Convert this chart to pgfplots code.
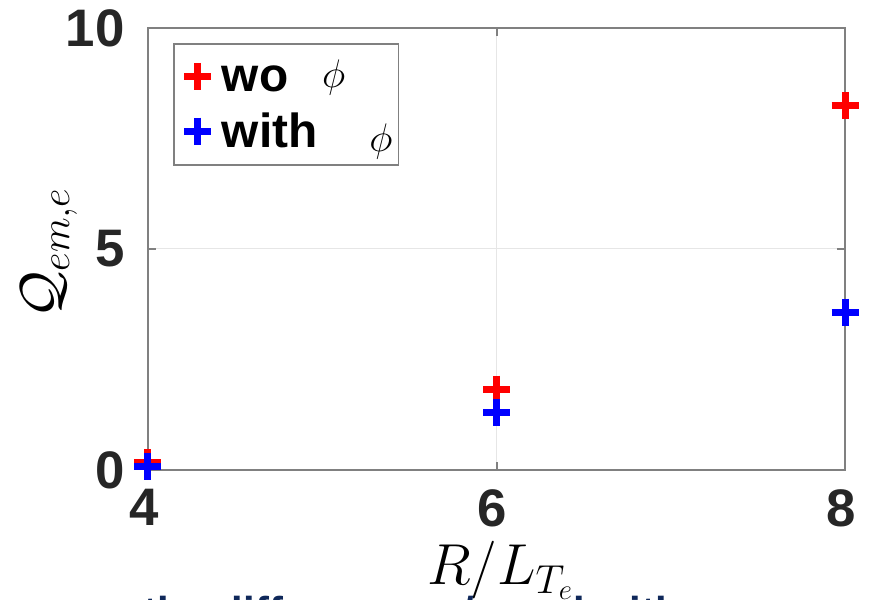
\RequirePackage{fix-cm}
\documentclass[border=0pt]{standalone}
\usepackage{fontspec}
\setmainfont{Liberation Sans}
\usepackage{pgfplots}
\pgfplotsset{compat=1.18}

\definecolor{axgray}{RGB}{128,128,128}
\definecolor{gridgray}{RGB}{230,230,230}
\definecolor{ticktext}{RGB}{38,38,38}
\definecolor{navy}{RGB}{15,40,90}

\newcommand{\phisym}{{\fontsize{40}{40}\selectfont$\phi$}}

\begin{document}
\begin{tikzpicture}
% page frame; anything outside it is cut off
\path[use as bounding box] (-148bp,-130bp) rectangle (728bp,470bp);
\begin{axis}[
  at={(0,0)}, anchor=south west,
  scale only axis,
  width=697bp, height=442bp,
  xmin=4, xmax=8, ymin=0, ymax=10,
  xtick={4,6,8}, ytick={0,5,10},
  grid=major,
  major grid style={draw=gridgray, line width=1bp},
  axis line style={draw=axgray, line width=2bp},
  tick style={draw=axgray, line width=2bp},
  major tick length=8bp,
  tick align=inside,
  /pgf/number format/assume math mode=true,
  tick label style={font=\fontsize{53}{53}\selectfont\bfseries, text=ticktext},
  xticklabel style={yshift=-16bp, xshift=-4bp},
  yticklabel style={xshift=-20bp},
  clip=false,
  xlabel={$R/L_{T_e}$},
  xlabel style={font=\fontsize{58}{58}\selectfont, at={(axis description cs:0.505,-0.26)}, anchor=base},
  ylabel={$\mathcal{Q}_{em,e}$},
  ylabel style={font=\fontsize{58}{58}\selectfont, at={(axis description cs:-0.142,0.49)}, anchor=center, rotate=0},
  legend style={
    at={(axis description cs:0.036,0.966)}, anchor=north west,
    draw=axgray, line width=1.5bp, fill=white,
    font=\fontsize{48}{48}\selectfont\bfseries,
    inner xsep=4bp, inner ysep=13bp,
    row sep=14bp,
    nodes={inner xsep=2bp, inner ysep=3bp},
  },
  legend cell align=left,
  legend image code/.code={%
    \path[draw=none, fill=none] (0bp,-6bp) rectangle (42bp,6bp);
    \draw[#1] plot coordinates {(20bp,0bp)};
  },
]
\addplot[only marks, mark=+, mark size=13.5bp, draw=red, line width=7bp]
  coordinates {(4,0.16) (6,1.83) (8,8.25)};
\addlegendentry{wo\hspace{34bp}\raisebox{4bp}{\phisym}}
\addplot[only marks, mark=+, mark size=13.5bp, draw=blue, line width=7bp]
  coordinates {(4,0.08) (6,1.29) (8,3.57)};
\addlegendentry{with\hspace{52bp}\raisebox{-4bp}{\phisym}}
\end{axis}

% caption line of the slide below the figure
\node[anchor=base west, font=\fontsize{42}{42}\selectfont\bfseries, text=navy]
  at (-8bp,-156bp) {the difference w/o and with};
\end{tikzpicture}
\end{document}
